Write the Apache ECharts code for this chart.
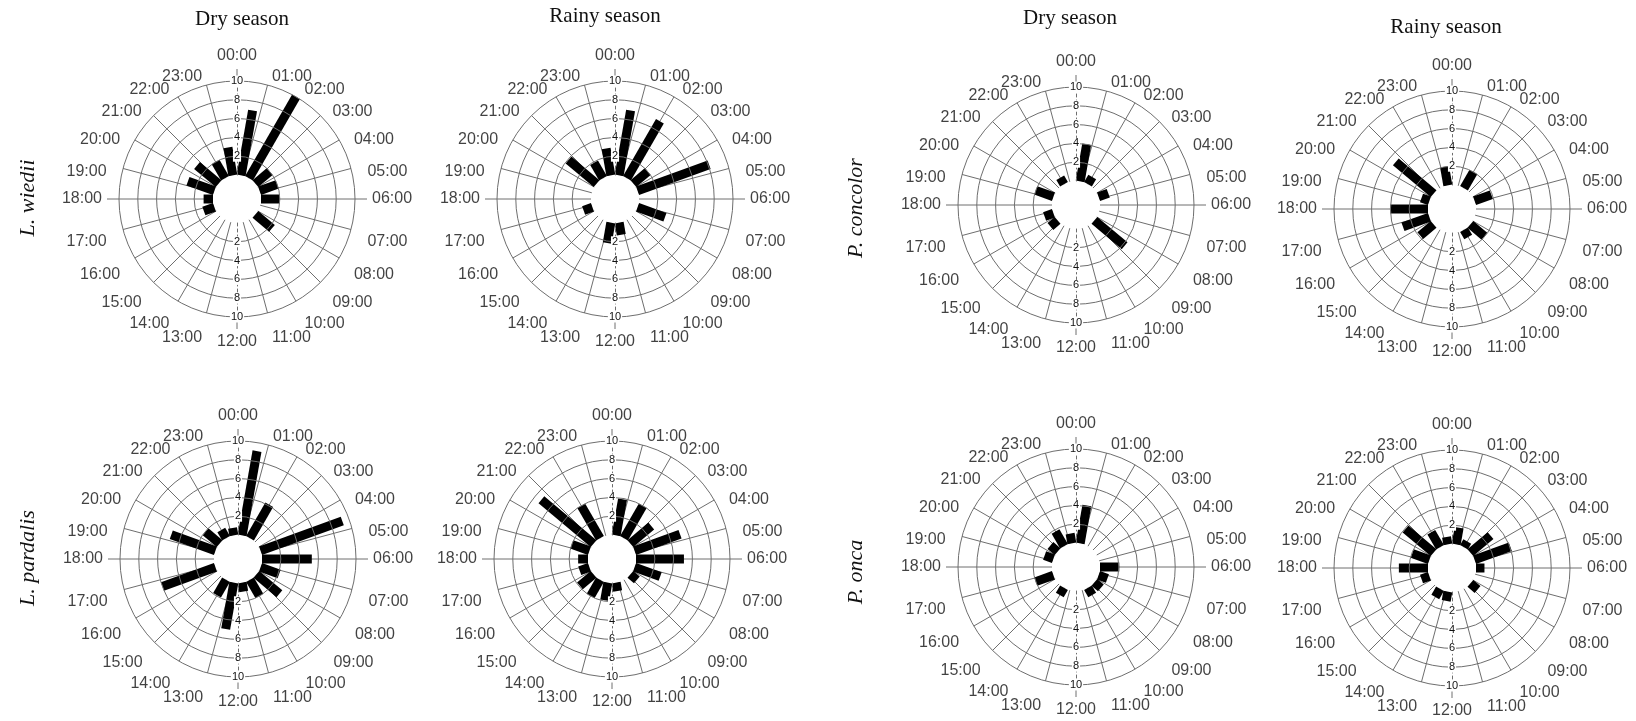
<!DOCTYPE html>
<html><head><meta charset="utf-8">
<script src="https://cdn.jsdelivr.net/npm/echarts@6/dist/echarts.min.js"></script>
<style>html,body{margin:0;padding:0;background:#fff}#c{width:1636px;height:721px}</style>
</head><body><div id="c"></div>
<script>
// ---- data ----
const hourLabels = ['00:00','01:00','02:00','03:00','04:00','05:00','06:00','07:00','08:00','09:00','10:00','11:00',
                    '12:00','13:00','14:00','15:00','16:00','17:00','18:00','19:00','20:00','21:00','22:00','23:00'];
// centres of the 18 circular bins (80-minute bins), minutes after midnight
const binCenterMinutes = [40,120,200,280,360,440,520,600,680,760,840,920,1000,1080,1160,1240,1320,1400];
const seasonTitles = ['Dry season','Rainy season','Dry season','Rainy season'];
const speciesNames = ['L. wiedii','L. pardalis','P. concolor','P. onca'];

const wiediiDry     = [7,10,2,2,2,0,2.3,0,0,0,0,0,1.2,1,3,3,2,3];
const wiediiRainy   = [7,7,2,8.1,0,3.1,0,0,1.3,2.2,0,0,1,0,0,3.9,1.9,2.9];
const concolorDry   = [4,0.9,0,1.1,0,0,4.2,0,0,0,0,1,1,0,2,0,0.8,0];
const concolorRainy = [0,2,0,1.9,0,0,1.95,0.9,0,0,0,1.85,3,4,0.9,5.25,0,2];
const pardalisDry   = [9.1,4.1,0,9.25,5.3,2.1,3.2,2.0,0.95,5.0,1.9,0,6.0,0,5.0,1.95,1.0,0.8];
const pardalisRainy = [3.9,4.0,2.9,5.15,5.1,2.9,0.9,0,0.9,1.9,2.0,1.9,1.1,1.05,2.0,7.25,4.0,0];
const oncaDry       = [4.1,0,0,0,2.05,1.0,0.9,0.9,0,0,0.9,0,2.0,0,1.0,1.0,1.8,1.05];
const oncaRainy     = [1.8,0.7,2.8,4.05,0.9,0,1.0,0,0,1.0,1.0,0,0.9,3.1,1.95,3.9,1.85,0.8];

// ---- layout ----
const panels = [
  {data: wiediiDry,     cx: 237,  cy: 199},
  {data: wiediiRainy,   cx: 615,  cy: 199},
  {data: concolorDry,   cx: 1076, cy: 205},
  {data: concolorRainy, cx: 1452, cy: 209},
  {data: pardalisDry,   cx: 238,  cy: 559},
  {data: pardalisRainy, cx: 612,  cy: 559},
  {data: oncaDry,       cx: 1076, cy: 567},
  {data: oncaRainy,     cx: 1452, cy: 568}
];
const titlePos = [[242,19],[605,16],[1070,18],[1446,27]];
const speciesPos = [[28,198],[28,558],[856,208],[856,572]];

const GRID = '#6e6e6e';
const TXT = '#111';
const R_IN = 24, R_OUT = 118, R_EXT = 130, R_LAB = 135;
const BAR_W = 9;
const SANS = '"Liberation Sans", Arial, sans-serif';
const SERIF = '"Liberation Serif", "Times New Roman", serif';

const spokeColors = hourLabels.map((h, i) => (i === 0 || i === 12) ? 'rgba(0,0,0,0)' : GRID);
const ringColors = ['rgba(0,0,0,0)', GRID, GRID, GRID, GRID, GRID];

const radLabel = {
  show: true, margin: 0, align: 'center', verticalAlign: 'middle',
  fontSize: 11, color: TXT, fontFamily: SANS,
  backgroundColor: '#fff', padding: [0, 1],
  showMinLabel: false,
  formatter: v => v === 0 ? '' : String(v)
};

function renderBar(params, api) {
  const v = api.value(0), a = api.value(1);
  if (!(v > 0)) return null;
  const p0 = api.coord([0, a]);
  const p1 = api.coord([v, a]);
  const dx = p1[0] - p0[0], dy = p1[1] - p0[1];
  const len = Math.hypot(dx, dy) || 1;
  const nx = -dy / len * BAR_W / 2, ny = dx / len * BAR_W / 2;
  return {
    type: 'polygon',
    shape: {points: [[p0[0]+nx, p0[1]+ny], [p1[0]+nx, p1[1]+ny], [p1[0]-nx, p1[1]-ny], [p0[0]-nx, p0[1]-ny]]},
    style: {fill: '#000'}
  };
}

function labelAlign(h) {
  if (h === 0) return {align: 'center', verticalAlign: 'bottom'};
  if (h === 12) return {align: 'center', verticalAlign: 'top'};
  if (h === 6) return {align: 'left', verticalAlign: 'middle'};
  if (h === 18) return {align: 'right', verticalAlign: 'middle'};
  return {align: h < 12 ? 'left' : 'right', verticalAlign: 'top'};
}

const polar = [], angleAxis = [], radiusAxis = [], series = [];
panels.forEach(p => {
  const c = [p.cx, p.cy];
  const b = polar.length;
  // main grid
  polar.push({center: c, radius: [R_IN, R_OUT]});
  angleAxis.push({polarIndex: b, type: 'value', min: 0, max: 1440, interval: 60, startAngle: 90, clockwise: true,
    axisLine: {show: false}, axisTick: {show: false}, axisLabel: {show: false},
    splitLine: {show: true, lineStyle: {color: spokeColors, width: 1}}});
  radiusAxis.push({polarIndex: b, type: 'value', min: 0, max: 10, interval: 2,
    axisLine: {show: true, lineStyle: {color: GRID, type: [3, 3], width: 1}},
    axisTick: {show: false}, axisLabel: radLabel,
    splitLine: {show: true, lineStyle: {color: ringColors, width: 1}}, z: 5});
  // downward radial scale
  polar.push({center: c, radius: [R_IN, R_OUT]});
  angleAxis.push({polarIndex: b + 1, type: 'value', min: 0, max: 360, startAngle: 270, show: false});
  radiusAxis.push({polarIndex: b + 1, type: 'value', min: 0, max: 10, interval: 2,
    axisLine: {show: true, lineStyle: {color: GRID, type: [3, 3], width: 1}},
    axisTick: {show: false}, axisLabel: radLabel, splitLine: {show: false}, z: 5});
  // cardinal extensions outside the circle
  polar.push({center: c, radius: [R_OUT, R_EXT]});
  angleAxis.push({polarIndex: b + 2, type: 'value', min: 0, max: 1440, interval: 360, startAngle: 90,
    axisLine: {show: false}, axisTick: {show: false}, axisLabel: {show: false},
    splitLine: {show: true, lineStyle: {color: GRID, width: 1}}});
  radiusAxis.push({polarIndex: b + 2, type: 'value', min: 0, max: 1, show: false});
  // hour labels ring
  polar.push({center: c, radius: [0, R_LAB]});
  angleAxis.push({polarIndex: b + 3, type: 'value', min: 0, max: 1440, startAngle: 90, show: false});
  radiusAxis.push({polarIndex: b + 3, type: 'value', min: 0, max: 1, show: false});

  series.push({
    type: 'custom', coordinateSystem: 'polar', polarIndex: b, silent: true, z: 3,
    encode: {radius: 0, angle: 1},
    data: p.data.map((v, i) => [v, binCenterMinutes[i]]),
    renderItem: renderBar
  });
  series.push({
    type: 'scatter', coordinateSystem: 'polar', polarIndex: b + 3, silent: true,
    symbolSize: 1, itemStyle: {color: 'rgba(0,0,0,0)'},
    label: {show: true, position: 'inside', fontSize: 16, color: TXT, fontFamily: SANS,
      formatter: d => hourLabels[d.dataIndex]},
    data: hourLabels.map((t, h) => ({value: [1, h * 60], label: labelAlign(h)}))
  });
});

const graphic = [];
seasonTitles.forEach((t, i) => graphic.push({
  type: 'text', x: titlePos[i][0], y: titlePos[i][1], silent: true,
  style: {text: t, fontSize: 21, fontFamily: SERIF, fill: TXT, align: 'center', verticalAlign: 'middle'}
}));
speciesNames.forEach((t, i) => graphic.push({
  type: 'text', x: speciesPos[i][0], y: speciesPos[i][1], rotation: Math.PI / 2, silent: true,
  style: {text: t, fontSize: 22, fontStyle: 'italic', fontFamily: SERIF, fill: TXT, align: 'center', verticalAlign: 'middle'}
}));

const chart = echarts.init(document.getElementById('c'), null, {renderer: 'canvas'});
chart.setOption({
  animation: false,
  backgroundColor: '#fff',
  polar, angleAxis, radiusAxis, series, graphic
});
</script>
</body></html>
